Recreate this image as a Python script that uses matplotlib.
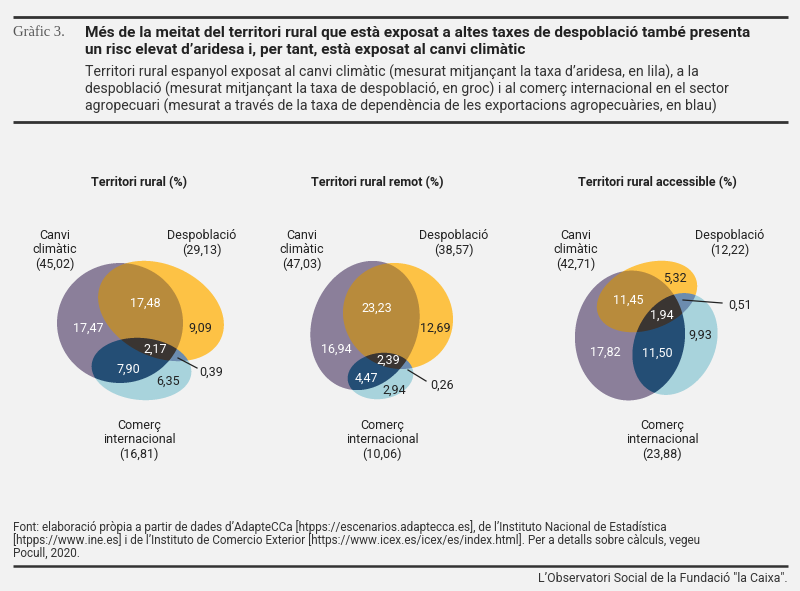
import numpy as np
import matplotlib.pyplot as plt

# --- data (percentages of rural territory) ---
titols = ["Territori rural (%)", "Territori rural remot (%)", "Territori rural accessible (%)"]
total_clima = [45.02, 47.03, 42.71]
total_despob = [29.13, 38.57, 12.22]
total_comerc = [16.81, 10.06, 23.88]

nomes_clima = [17.47, 16.94, 17.82]
clima_despob = [17.48, 23.23, 11.45]
nomes_despob = [9.09, 12.69, 5.32]
tots_tres = [2.17, 2.39, 1.94]
clima_comerc = [7.90, 4.47, 11.50]
nomes_comerc = [6.35, 2.94, 9.93]
despob_comerc = [0.39, 0.26, 0.51]

# --- layout (pixel coordinates, y downwards) ---
# ellipses: (cx, cy, semi-x, semi-y, angle clockwise)
elipses = [
    [(120, 323, 63, 60, 0), (161, 311, 66, 46, 25), (141.5, 369, 50, 31, 5)],
    [(365, 325.5, 53, 66, 20), (398, 316, 56, 52, 30), (380.5, 376, 33, 23, -8)],
    [(630, 335.5, 55, 65, 5), (647, 296.5, 52, 33, -20), (675, 344, 40, 53, 25)],
]
caixes = [(40, 245, 240, 410), (295, 245, 470, 410), (560, 250, 730, 410)]
titol_x = [139, 377, 657]
clima_lbl_x = [55, 302, 576]
despob_lbl_x = [202, 454, 730]
comerc_lbl_x = [139, 382, 662]

# label positions per region, in the same order as the value lists
pos_nomes_clima = [(88, 328), (336, 349), (605, 352)]
pos_clima_despob = [(145, 303), (377, 308), (628, 300)]
pos_nomes_despob = [(200, 328), (435, 328), (675, 278)]
pos_tots_tres = [(155, 349), (388, 360), (662, 315)]
pos_clima_comerc = [(128, 369), (366, 378), (657, 353)]
pos_nomes_comerc = [(168, 381), (394, 390), (700, 335)]
pos_despob_comerc = [(199, 372), (430, 385), (728, 305)]
linia_despob_comerc = [((178, 358), (197, 368)), ((408, 370), (426, 381)),
                       ((683, 300), (722, 303))]

# region colours: bit 1 = clima, 2 = despoblacio, 4 = comerc
colors_regio = {
    1: "#8b7f9b",
    2: "#fdc245",
    4: "#a8d3dc",
    3: "#b98b3c",
    5: "#254f75",
    6: "#6c8db0",
    7: "#3a3532",
}
fons = "#f2f2f2"
fosc = "#222222"

plt.rcParams['font.family'] = ['Roboto', 'DejaVu Sans']

fig = plt.figure(figsize=(8, 5.91), dpi=100, facecolor=fons)
ax = fig.add_axes([0, 0, 1, 1])
ax.set_facecolor(fons)
ax.axis('off')


def dins(X, Y, e):
    cx, cy, a, b, ang = e
    t = np.deg2rad(ang)
    dx, dy = X - cx, Y - cy
    u = dx * np.cos(t) + dy * np.sin(t)
    v = -dx * np.sin(t) + dy * np.cos(t)
    return (u / a) ** 2 + (v / b) ** 2 <= 1


def fmt(v):
    return f"{v:.2f}".replace('.', ',')


ss = 4
for i in range(3):
    x0, y0, x1, y1 = caixes[i]
    W, H = x1 - x0, y1 - y0
    xs = x0 + (np.arange(W * ss) + 0.5) / ss
    ys = y0 + (np.arange(H * ss) + 0.5) / ss
    X, Y = np.meshgrid(xs, ys)
    codi = np.zeros(X.shape, dtype=int)
    for bit, e in zip((1, 2, 4), elipses[i]):
        codi += bit * dins(X, Y, e)
    img = np.zeros(X.shape + (4,))
    for c, col in colors_regio.items():
        rgb = plt.matplotlib.colors.to_rgb(col)
        img[codi == c, :3] = rgb
        img[codi == c, 3] = 1
    img = img.reshape(H, ss, W, ss, 4).mean(axis=(1, 3))
    a = img[..., 3:]
    img[..., :3] = np.where(a > 0, img[..., :3] / np.maximum(a, 1e-9), 0)
    ax.imshow(img, extent=(x0, x1, y1, y0), interpolation='nearest', zorder=1)

    ax.text(titol_x[i], 183, titols[i], ha='center', va='center',
            fontsize=9, fontweight='bold', color=fosc)
    ax.text(clima_lbl_x[i], 250, "Canvi\nclimàtic\n(" + fmt(total_clima[i]) + ")",
            ha='center', va='center', fontsize=9, color=fosc, linespacing=1.15)
    ax.text(despob_lbl_x[i], 243, "Despoblació\n(" + fmt(total_despob[i]) + ")",
            ha='center', va='center', fontsize=9, color=fosc, linespacing=1.15)
    ax.text(comerc_lbl_x[i], 440, "Comerç\ninternacional\n(" + fmt(total_comerc[i]) + ")",
            ha='center', va='center', fontsize=9, color=fosc, linespacing=1.15)

    regions = [
        (nomes_clima, pos_nomes_clima, 'white'),
        (clima_despob, pos_clima_despob, 'white'),
        (nomes_despob, pos_nomes_despob, fosc),
        (tots_tres, pos_tots_tres, 'white'),
        (clima_comerc, pos_clima_comerc, 'white'),
        (nomes_comerc, pos_nomes_comerc, fosc),
    ]
    for vals, pos, col in regions:
        ax.text(pos[i][0], pos[i][1], fmt(vals[i]), ha='center', va='center',
                fontsize=9, color=col, zorder=3)
    ax.text(pos_despob_comerc[i][0], pos_despob_comerc[i][1], fmt(despob_comerc[i]),
            ha='left', va='center', fontsize=9, color=fosc, zorder=3)
    (lx0, ly0), (lx1, ly1) = linia_despob_comerc[i]
    ax.plot([lx0, lx1], [ly0, ly1], color=fosc, lw=0.9, zorder=3)

# --- header ---
ax.plot([13, 788], [17, 17], color="#333333", lw=2, solid_capstyle='butt')
ax.plot([13, 788], [122, 122], color="#333333", lw=2, solid_capstyle='butt')
ax.text(13, 33, "Gràfic 3.", family='Liberation Serif', fontsize=10.5,
        color="#555555", ha='left', va='center')
ax.text(85, 33, "Més de la meitat del territori rural que està exposat a altes taxes de despoblació també presenta",
        fontsize=11.1, fontweight='bold', color=fosc, ha='left', va='center')
ax.text(85, 50, "un risc elevat d’aridesa i, per tant, està exposat al canvi climàtic",
        fontsize=11.1, fontweight='bold', color=fosc, ha='left', va='center')
subtitol = ["Territori rural espanyol exposat al canvi climàtic (mesurat mitjançant la taxa d’aridesa, en lila), a la",
            "despoblació (mesurat mitjançant la taxa de despoblació, en groc) i al comerç internacional en el sector",
            "agropecuari (mesurat a través de la taxa de dependència de les exportacions agropecuàries, en blau)"]
for k, linia in enumerate(subtitol):
    ax.text(85, 72 + 17 * k, linia, fontsize=10.2, color="#333333", ha='left', va='center')

# --- footer ---
font = ["Font: elaboració pròpia a partir de dades d’AdapteCCa [htpps://escenarios.adaptecca.es], de l’Instituto Nacional de Estadística",
        "[htpps://www.ine.es] i de l’Instituto de Comercio Exterior [https://www.icex.es/icex/es/index.html]. Per a detalls sobre càlculs, vegeu",
        "Pocull, 2020."]
for k, linia in enumerate(font):
    ax.text(13, 527 + 13 * k, linia, fontsize=8.5, color="#333333", ha='left', va='center')
ax.plot([13, 788], [566, 566], color="#333333", lw=1.8, solid_capstyle='butt')
ax.text(788, 578, "L’Observatori Social de la Fundació \"la Caixa\".", fontsize=8.9,
        color="#333333", ha='right', va='center')

ax.set_xlim(0, 800)
ax.set_ylim(591, 0)
fig.savefig("out.png", dpi=100, facecolor=fons)
